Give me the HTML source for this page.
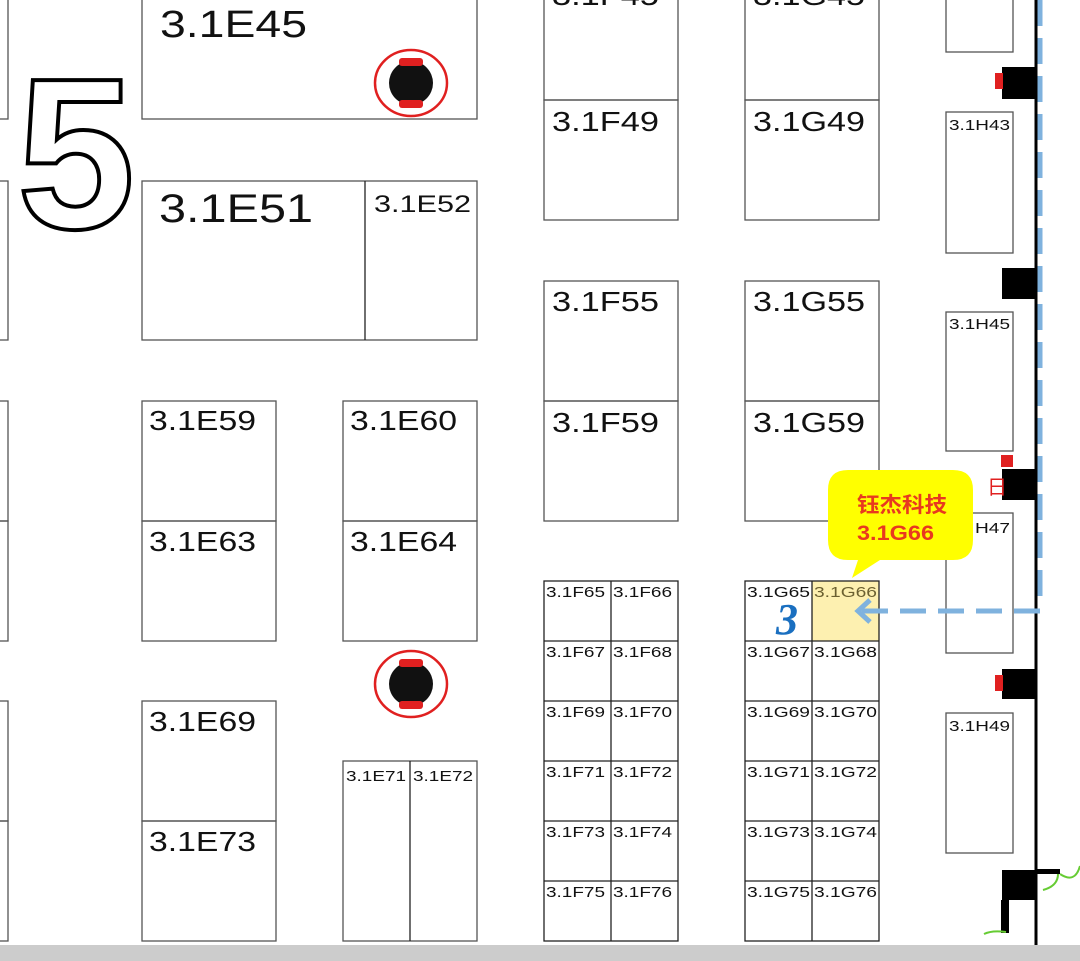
<!DOCTYPE html>
<html><head><meta charset="utf-8"><style>
html,body{margin:0;padding:0;background:#fff;width:1080px;height:961px;overflow:hidden}
svg{display:block}
text{font-family:"Liberation Sans","Noto Sans CJK SC",sans-serif}
</style></head><body>
<svg width="1080" height="961" viewBox="0 0 1080 961" xmlns="http://www.w3.org/2000/svg">
<g fill="none" stroke="#555" stroke-width="1.3">
<rect x="-5" y="-5" width="13" height="124"/>
<rect x="-5" y="181" width="13" height="159"/>
<rect x="-5" y="401" width="13" height="120"/>
<rect x="-5" y="521" width="13" height="120"/>
<rect x="-5" y="701" width="13" height="120"/>
<rect x="-5" y="821" width="13" height="120"/>
<rect x="142" y="-5" width="335" height="124"/>
<rect x="142" y="181" width="335" height="159"/>
<line x1="365" y1="181" x2="365" y2="340" stroke="#222"/>
<rect x="142" y="401" width="134" height="120"/>
<rect x="142" y="521" width="134" height="120"/>
<rect x="343" y="401" width="134" height="120"/>
<rect x="343" y="521" width="134" height="120"/>
<rect x="142" y="701" width="134" height="120"/>
<rect x="142" y="821" width="134" height="120"/>
<rect x="343" y="761" width="134" height="180"/>
<line x1="410" y1="761" x2="410" y2="941" stroke="#222"/>
<rect x="544" y="-5" width="134" height="105"/>
<rect x="544" y="100" width="134" height="120"/>
<rect x="745" y="-5" width="134" height="105"/>
<rect x="745" y="100" width="134" height="120"/>
<rect x="544" y="281" width="134" height="120"/>
<rect x="544" y="401" width="134" height="120"/>
<rect x="745" y="281" width="134" height="120"/>
<rect x="745" y="401" width="134" height="120"/>
<rect x="946" y="-5" width="67" height="57"/>
<rect x="946" y="112" width="67" height="141"/>
<rect x="946" y="312" width="67" height="139"/>
<rect x="946" y="513" width="67" height="140"/>
<rect x="946" y="713" width="67" height="140"/>
</g>
<rect x="812" y="581" width="67" height="60" fill="#fdf0b0" stroke="#b8a640"/>
<g fill="none" stroke="#222" stroke-width="1.3">
<rect x="544" y="581" width="134" height="360"/>
<line x1="611" y1="581" x2="611" y2="941"/>
<line x1="544" y1="641" x2="678" y2="641"/><line x1="544" y1="701" x2="678" y2="701"/><line x1="544" y1="761" x2="678" y2="761"/><line x1="544" y1="821" x2="678" y2="821"/><line x1="544" y1="881" x2="678" y2="881"/>
<rect x="745" y="581" width="134" height="360"/>
<line x1="812" y1="581" x2="812" y2="941"/>
<line x1="745" y1="641" x2="879" y2="641"/><line x1="745" y1="701" x2="879" y2="701"/><line x1="745" y1="761" x2="879" y2="761"/><line x1="745" y1="821" x2="879" y2="821"/><line x1="745" y1="881" x2="879" y2="881"/>
</g>
<text x="17" y="228" font-size="215" font-weight="bold" textLength="118" lengthAdjust="spacingAndGlyphs" style="fill:#fff;stroke:#000;stroke-width:4">5</text>
<g style="fill:#111">
<text x="160" y="37" font-size="38" textLength="147" lengthAdjust="spacingAndGlyphs">3.1E45</text>
<text x="159" y="222" font-size="40" textLength="154" lengthAdjust="spacingAndGlyphs">3.1E51</text>
<text x="374" y="212" font-size="24" textLength="97" lengthAdjust="spacingAndGlyphs">3.1E52</text>
<text x="149" y="430" font-size="28" textLength="107" lengthAdjust="spacingAndGlyphs">3.1E59</text>
<text x="149" y="551" font-size="28" textLength="107" lengthAdjust="spacingAndGlyphs">3.1E63</text>
<text x="350" y="430" font-size="28" textLength="107" lengthAdjust="spacingAndGlyphs">3.1E60</text>
<text x="350" y="551" font-size="28" textLength="107" lengthAdjust="spacingAndGlyphs">3.1E64</text>
<text x="149" y="731" font-size="28" textLength="107" lengthAdjust="spacingAndGlyphs">3.1E69</text>
<text x="149" y="851" font-size="28" textLength="107" lengthAdjust="spacingAndGlyphs">3.1E73</text>
<text x="346" y="781" font-size="15" textLength="60" lengthAdjust="spacingAndGlyphs">3.1E71</text>
<text x="413" y="781" font-size="15" textLength="60" lengthAdjust="spacingAndGlyphs">3.1E72</text>
<text x="552" y="5" font-size="28" textLength="107" lengthAdjust="spacingAndGlyphs">3.1F45</text>
<text x="552" y="131" font-size="28" textLength="107" lengthAdjust="spacingAndGlyphs">3.1F49</text>
<text x="753" y="5" font-size="28" textLength="112" lengthAdjust="spacingAndGlyphs">3.1G45</text>
<text x="753" y="131" font-size="28" textLength="112" lengthAdjust="spacingAndGlyphs">3.1G49</text>
<text x="552" y="311" font-size="28" textLength="107" lengthAdjust="spacingAndGlyphs">3.1F55</text>
<text x="552" y="432" font-size="28" textLength="107" lengthAdjust="spacingAndGlyphs">3.1F59</text>
<text x="753" y="311" font-size="28" textLength="112" lengthAdjust="spacingAndGlyphs">3.1G55</text>
<text x="753" y="432" font-size="28" textLength="112" lengthAdjust="spacingAndGlyphs">3.1G59</text>
</g>
<g font-size="15" style="fill:#111">
<text x="546" y="597" textLength="59" lengthAdjust="spacingAndGlyphs">3.1F65</text><text x="613" y="597" textLength="59" lengthAdjust="spacingAndGlyphs">3.1F66</text>
<text x="546" y="657" textLength="59" lengthAdjust="spacingAndGlyphs">3.1F67</text><text x="613" y="657" textLength="59" lengthAdjust="spacingAndGlyphs">3.1F68</text>
<text x="546" y="717" textLength="59" lengthAdjust="spacingAndGlyphs">3.1F69</text><text x="613" y="717" textLength="59" lengthAdjust="spacingAndGlyphs">3.1F70</text>
<text x="546" y="777" textLength="59" lengthAdjust="spacingAndGlyphs">3.1F71</text><text x="613" y="777" textLength="59" lengthAdjust="spacingAndGlyphs">3.1F72</text>
<text x="546" y="837" textLength="59" lengthAdjust="spacingAndGlyphs">3.1F73</text><text x="613" y="837" textLength="59" lengthAdjust="spacingAndGlyphs">3.1F74</text>
<text x="546" y="897" textLength="59" lengthAdjust="spacingAndGlyphs">3.1F75</text><text x="613" y="897" textLength="59" lengthAdjust="spacingAndGlyphs">3.1F76</text>
<text x="747" y="597" textLength="63" lengthAdjust="spacingAndGlyphs">3.1G65</text><text x="814" y="597" textLength="63" lengthAdjust="spacingAndGlyphs" style="fill:#6b6030">3.1G66</text>
<text x="747" y="657" textLength="63" lengthAdjust="spacingAndGlyphs">3.1G67</text><text x="814" y="657" textLength="63" lengthAdjust="spacingAndGlyphs">3.1G68</text>
<text x="747" y="717" textLength="63" lengthAdjust="spacingAndGlyphs">3.1G69</text><text x="814" y="717" textLength="63" lengthAdjust="spacingAndGlyphs">3.1G70</text>
<text x="747" y="777" textLength="63" lengthAdjust="spacingAndGlyphs">3.1G71</text><text x="814" y="777" textLength="63" lengthAdjust="spacingAndGlyphs">3.1G72</text>
<text x="747" y="837" textLength="63" lengthAdjust="spacingAndGlyphs">3.1G73</text><text x="814" y="837" textLength="63" lengthAdjust="spacingAndGlyphs">3.1G74</text>
<text x="747" y="897" textLength="63" lengthAdjust="spacingAndGlyphs">3.1G75</text><text x="814" y="897" textLength="63" lengthAdjust="spacingAndGlyphs">3.1G76</text>
<text x="949" y="130" textLength="61" lengthAdjust="spacingAndGlyphs">3.1H43</text>
<text x="949" y="329" textLength="61" lengthAdjust="spacingAndGlyphs">3.1H45</text>
<text x="949" y="731" textLength="61" lengthAdjust="spacingAndGlyphs">3.1H49</text>
<text x="975" y="533" textLength="35" lengthAdjust="spacingAndGlyphs">H47</text>
</g>
<text x="776" y="634" font-size="44" font-style="italic" font-weight="bold" style="fill:#1a6fc0;font-family:'Liberation Serif',serif">3</text>
<g>
<ellipse cx="411" cy="83" rx="36" ry="33" fill="none" stroke="#e02020" stroke-width="2.5"/>
<circle cx="411" cy="83" r="22" fill="#111"/>
<rect x="399" y="58" width="24" height="8" rx="3" fill="#e02020"/>
<rect x="399" y="100" width="24" height="8" rx="3" fill="#e02020"/>
<ellipse cx="411" cy="684" rx="36" ry="33" fill="none" stroke="#e02020" stroke-width="2.5"/>
<circle cx="411" cy="684" r="22" fill="#111"/>
<rect x="399" y="659" width="24" height="8" rx="3" fill="#e02020"/>
<rect x="399" y="701" width="24" height="8" rx="3" fill="#e02020"/>
</g>
<line x1="1036" y1="0" x2="1036" y2="945" stroke="#000" stroke-width="3"/>
<line x1="1040" y1="0" x2="1040" y2="605" stroke="#7fb2de" stroke-width="5" stroke-dasharray="26,12"/>
<line x1="1040" y1="611" x2="860" y2="611" stroke="#7fb2de" stroke-width="5" stroke-dasharray="26,12"/>
<polyline points="870,600 858,611 870,622" fill="none" stroke="#7fb2de" stroke-width="5"/>
<g fill="#000">
<rect x="1002" y="67" width="34" height="32"/>
<rect x="1002" y="268" width="34" height="31"/>
<rect x="1002" y="469" width="34" height="31"/>
<rect x="1002" y="669" width="34" height="30"/>
<rect x="1002" y="870" width="34" height="30"/>
<rect x="1036" y="869" width="24" height="5"/>
<rect x="1001" y="900" width="8" height="33"/>
</g>
<g fill="#e02020">
<rect x="995" y="73" width="8" height="16"/>
<rect x="995" y="675" width="8" height="16"/>
<rect x="1001" y="455" width="12" height="12"/>
</g>
<text x="987" y="494" font-size="20" style="fill:#e02020">日</text>
<path d="M1058 874 q0 12 -15 16 M1060 874 q15 10 20 -8" fill="none" stroke="#6c3" stroke-width="2"/>
<path d="M984 934 q8 -4 22 -2" fill="none" stroke="#6c3" stroke-width="2"/>
<path d="M848 470 H953 Q973 470 973 490 V540 Q973 560 953 560 H880 L852 578 L858 560 H848 Q828 560 828 540 V490 Q828 470 848 470 Z" fill="#ffff00"/>
<text x="857" y="512" font-size="21" font-weight="bold" textLength="90" lengthAdjust="spacingAndGlyphs" style="fill:#e8391f">钰杰科技</text>
<text x="857" y="540" font-size="21" font-weight="bold" textLength="77" lengthAdjust="spacingAndGlyphs" style="fill:#e8391f">3.1G66</text>
<rect x="0" y="945" width="1080" height="16" fill="#cccccc"/>
</svg>
</body></html>
